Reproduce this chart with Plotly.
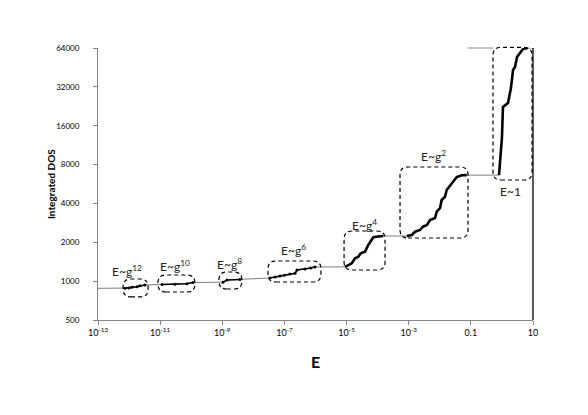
import math
import plotly.graph_objects as go

# ---------------- data ----------------
# integrated density of states: clusters of eigenvalues
g12_E = [7.4e-13, 1.0e-12, 1.24e-12, 1.8e-12, 2.25e-12, 3.25e-12]
g12_N = [882, 884, 895, 905, 920, 934]
g10_E = [1.15e-11, 3.0e-11, 7.3e-11, 1.14e-10]
g10_N = [940, 945, 955, 976]
g8_E = [1.05e-9, 1.42e-9, 3.7e-9]
g8_N = [982, 1020, 1030]
g6_E = [3.4e-8, 5.0e-8, 7.2e-8, 1.0e-7, 1.5e-7, 2.2e-7, 2.54e-7, 4.6e-7, 7.0e-7, 9.6e-7]
g6_N = [1058, 1075, 1096, 1110, 1136, 1150, 1220, 1240, 1262, 1287]
g4_E = [8.9e-6, 1.01e-5, 1.47e-5, 1.87e-5, 2.39e-5, 2.85e-5, 3.93e-5, 5.0e-5, 6.44e-5, 7.26e-5, 1.05e-4, 1.52e-4]
g4_N = [1290, 1310, 1375, 1503, 1547, 1643, 1691, 1905, 2083, 2186, 2220, 2237]
g2_E = [8.63e-4, 1.25e-3, 1.6e-3, 2.31e-3, 2.88e-3, 3.88e-3, 4.85e-3, 7.03e-3, 7.96e-3, 0.0102, 0.0115,
        0.0147, 0.0167, 0.0242, 0.0351, 0.0508, 0.0736]
g2_N = [2237, 2277, 2415, 2490, 2641, 2722, 2976, 3084, 3451, 3686, 4252, 4509, 5082, 5756, 6408, 6620, 6630]
g0_E = [0.805, 0.9, 1.0, 1.08, 1.57, 1.95, 2.28, 2.64, 3.06, 3.81, 4.77, 6.9, 9.3, 10.0]
g0_N = [6630, 9500, 12843, 22336, 23986, 31340, 43200, 45600, 54500, 58500, 62850, 64000, 64000, 64000]
start_E = [1e-13]
start_N = [880]

cluster_labels = ["E~g<sup>12</sup>", "E~g<sup>10</sup>", "E~g<sup>8</sup>", "E~g<sup>6</sup>",
                  "E~g<sup>4</sup>", "E~g<sup>2</sup>", "E~1"]
# label anchor positions (E, N)
label_E = [8.6e-13, 3.0e-11, 1.77e-9, 2.03e-7, 3.64e-5, 6.5e-3, 1.82]
label_N = [1198, 1310, 1358, 1743, 2722, 9320, 4905]
# dashed boxes around clusters: (E0, E1, N0, N1)
box_E0 = [6.4e-13, 8.5e-12, 7.8e-10, 2.96e-8, 8.3e-6, 5.25e-4, 0.516]
box_E1 = [4.1e-12, 1.32e-10, 4.3e-9, 1.5e-6, 1.73e-4, 0.081, 9.3]
box_N0 = [754, 824, 869, 985, 1220, 2158, 6075]
box_N1 = [1039, 1116, 1177, 1432, 2446, 7660, 64800]

x_tickvals = [1e-13, 1e-11, 1e-9, 1e-7, 1e-5, 1e-3, 0.1, 10]
x_ticktext = ["10<sup>-13</sup>", "10<sup>-11</sup>", "10<sup>-9</sup>", "10<sup>-7</sup>",
              "10<sup>-5</sup>", "10<sup>-3</sup>", "0.1", "10"]
y_tickvals = [500, 1000, 2000, 4000, 8000, 16000, 32000, 64000]
y_ticktext = [str(v) for v in y_tickvals]

# ---------------- figure ----------------
XMIN, XMAX = -13, 1
YMIN, YMAX = math.log10(500), math.log10(64000)
PW, PH = 435, 272
FONT = "Lato, Carlito, 'Liberation Sans', sans-serif"

fig = go.Figure()

all_E = start_E + g12_E + g10_E + g8_E + g6_E + g4_E + g2_E + g0_E
all_N = start_N + g12_N + g10_N + g8_N + g6_N + g4_N + g2_N + g0_N
fig.add_trace(go.Scatter(x=all_E, y=all_N, mode="lines",
                         line=dict(color="#7f7f7f", width=1), hoverinfo="skip"))

for E, N in [(g12_E, g12_N), (g10_E, g10_N), (g8_E, g8_N), (g6_E, g6_N)]:
    fig.add_trace(go.Scatter(x=E, y=N, mode="lines+markers",
                             line=dict(color="black", width=1.5),
                             marker=dict(color="black", size=3)))
for E, N in [(g4_E, g4_N), (g2_E, g2_N), (g0_E[:-2], g0_N[:-2])]:
    fig.add_trace(go.Scatter(x=E, y=N, mode="lines",
                             line=dict(color="black", width=2.6)))


def px(E):
    return (math.log10(E) - XMIN) / (XMAX - XMIN)


def py(N):
    return (math.log10(N) - YMIN) / (YMAX - YMIN)


shapes = []
r = 8
for e0, e1, n0, n1 in zip(box_E0, box_E1, box_N0, box_N1):
    x0, x1, y0, y1 = px(e0), px(e1), py(n0), py(n1)
    rx, ry = r / PW, r / PH
    path = (f"M {x0+rx},{y0} L {x1-rx},{y0} Q {x1},{y0} {x1},{y0+ry} "
            f"L {x1},{y1-ry} Q {x1},{y1} {x1-rx},{y1} "
            f"L {x0+rx},{y1} Q {x0},{y1} {x0},{y1-ry} "
            f"L {x0},{y0+ry} Q {x0},{y0} {x0+rx},{y0} Z")
    shapes.append(dict(type="path", path=path, xref="paper", yref="paper",
                       line=dict(color="black", width=1.2, dash="4px,3px")))

# right border at E = 10 and top gray line
shapes.append(dict(type="line", xref="paper", yref="paper", x0=1, x1=1, y0=0, y1=1,
                   line=dict(color="black", width=1.3)))
shapes.append(dict(type="line", xref="paper", yref="paper", x0=px(0.08), x1=px(0.52), y0=1, y1=1,
                   line=dict(color="#8c8c8c", width=1)))

annotations = []
for t, e, n in zip(cluster_labels, label_E, label_N):
    annotations.append(dict(text=t, x=math.log10(e), y=math.log10(n), xref="x", yref="y",
                            showarrow=False, font=dict(family=FONT, size=12, color="#222"),
                            xanchor="center", yanchor="middle"))
annotations.append(dict(text="<b>Integrated DOS</b>", x=-0.108, y=0.5, xref="paper", yref="paper",
                        textangle=-90, showarrow=False, xanchor="center", yanchor="middle",
                        font=dict(family=FONT, size=10, color="black")))
annotations.append(dict(text="<b>E</b>", x=0.501, y=-0.151, xref="paper", yref="paper",
                        showarrow=False, xanchor="center", yanchor="middle",
                        font=dict(family=FONT, size=16, color="black")))

# page body adds an 8px offset, so the figure is sized and placed to compensate
fig.update_layout(
    width=580, height=407,
    margin=dict(l=90, r=55, t=40, b=95),
    paper_bgcolor="white", plot_bgcolor="white",
    showlegend=False,
    shapes=shapes, annotations=annotations,
    font=dict(family=FONT, size=8, color="black"),
)
fig.update_xaxes(type="log", range=[XMIN, XMAX], tickvals=x_tickvals, ticktext=x_ticktext,
                 showgrid=False, zeroline=False, showline=True, linecolor="#868686", linewidth=1,
                 ticks="outside", ticklen=4, tickcolor="#868686",
                 tickfont=dict(family=FONT, size=9, color="black"))
fig.update_yaxes(type="log", range=[YMIN, YMAX], tickvals=y_tickvals, ticktext=y_ticktext,
                 showgrid=False, zeroline=False, showline=True, linecolor="#868686", linewidth=1,
                 ticks="outside", ticklen=4, tickcolor="#868686", ticklabelstandoff=12,
                 tickfont=dict(family=FONT, size=8, color="black"))

fig.write_html("out.html")
